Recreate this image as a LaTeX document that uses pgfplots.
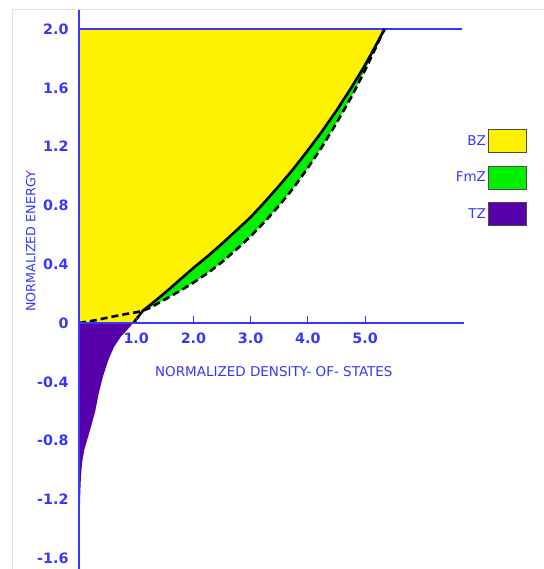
\documentclass[border=0pt]{standalone}
\usepackage{pgfplots}
\pgfplotsset{compat=1.18}
\usepackage{pgfplotstable}
\usepackage{fontspec}
\setmainfont{DejaVu Sans}
\definecolor{axblue}{RGB}{55,55,250}
\definecolor{tzpurple}{RGB}{85,0,170}
\definecolor{fmgreen}{RGB}{0,240,0}

% BZ boundary (solid)
\pgfplotstableread{
x y
0.95 0.0
1.0 0.025
1.05 0.05
1.12 0.085
1.25 0.125
1.5 0.205
1.75 0.29
2.0 0.375
2.25 0.455
2.5 0.54
2.75 0.63
3.0 0.72
3.25 0.825
3.5 0.935
3.75 1.05
4.0 1.175
4.25 1.305
4.5 1.445
4.75 1.595
5.0 1.755
5.17 1.875
5.34 2.0
}\solidtab

% FmZ boundary (dashed)
\pgfplotstableread{
x y
0 0
0.3 0.02
0.54 0.04
0.8 0.06
1.0 0.073
1.12 0.085
1.25 0.105
1.5 0.16
1.75 0.215
2.0 0.275
2.25 0.34
2.5 0.415
2.75 0.50
3.0 0.59
3.25 0.69
3.5 0.80
3.75 0.92
4.0 1.055
4.25 1.20
4.5 1.36
4.75 1.53
5.0 1.72
5.17 1.86
5.34 2.0
}\dashtab

% BZ region (left of solid curve, up to E=2)
\pgfplotstableread{
x y
0 0
0.95 0.0
1.0 0.025
1.05 0.05
1.12 0.085
1.25 0.125
1.5 0.205
1.75 0.29
2.0 0.375
2.25 0.455
2.5 0.54
2.75 0.63
3.0 0.72
3.25 0.825
3.5 0.935
3.75 1.05
4.0 1.175
4.25 1.305
4.5 1.445
4.75 1.595
5.0 1.755
5.17 1.875
5.34 2.0
0 2.0
}\bztab

% FmZ region (between solid and dashed)
\pgfplotstableread{
x y
1.12 0.085
1.25 0.125
1.5 0.205
1.75 0.29
2.0 0.375
2.25 0.455
2.5 0.54
2.75 0.63
3.0 0.72
3.25 0.825
3.5 0.935
3.75 1.05
4.0 1.175
4.25 1.305
4.5 1.445
4.75 1.595
5.0 1.755
5.17 1.875
5.34 2.0
5.17 1.86
5.0 1.72
4.75 1.53
4.5 1.36
4.25 1.20
4.0 1.055
3.75 0.92
3.5 0.80
3.25 0.69
3.0 0.59
2.75 0.50
2.5 0.415
2.25 0.34
2.0 0.275
1.75 0.215
1.5 0.16
1.25 0.105
1.12 0.085
}\fmztab

% TZ region (below E=0)
\pgfplotstableread{
x y
0 0
0.93 0
0.84 -0.04
0.72 -0.09
0.6 -0.16
0.5 -0.25
0.4 -0.37
0.33 -0.48
0.27 -0.6
0.2 -0.7
0.14 -0.78
0.08 -0.86
0.04 -0.95
0.02 -1.05
0.01 -1.15
0 -1.28
}\tztab

\begin{document}
\begin{tikzpicture}
\useasboundingbox (-79pt,-0.5pt) rectangle (464pt,568.5pt);
\draw[black!12, line width=1pt] (-66pt,-1pt) -- (-66pt,558.5pt) -- (470pt,558.5pt);
\begin{axis}[
  at={(0,0)}, anchor=south west, scale only axis,
  width=385pt, height=558.5pt,
  xmin=0, xmax=6.73, ymin=-1.67, ymax=2.13,
  clip=false,
  axis lines=middle, axis on top,
  axis line style={axblue, line width=1.2pt, -},
  xtick={1,2,3,4,5}, xticklabels={1.0,2.0,3.0,4.0,5.0},
  ytick={-1.6,-1.2,-0.8,-0.4,0,0.4,0.8,1.2,1.6,2.0},
  yticklabels={-1.6,-1.2,-0.8,-0.4,0,0.4,0.8,1.2,1.6,2.0},
  tick align=inside, major tick length=7pt,
  xtick style={axblue, line width=1pt},
  ytick style={draw=none},
  ticklabel style={text=axblue, font=\fontsize{14.3}{16}\selectfont\bfseries},
  xticklabel style={anchor=north, yshift=-6pt},
  yticklabel style={anchor=east, xshift=-7pt},
  xlabel={NORMALIZED DENSITY- OF- STATES},
  ylabel={NORMALIZED ENERGY},
  xlabel style={at={(axis description cs:0.506,0.352)}, anchor=center, text=axblue, font=\fontsize{13.5}{15}\selectfont},
  ylabel style={at={(axis description cs:-0.125,0.586)}, anchor=center, rotate=90, text=axblue, font=\fontsize{12.7}{14}\selectfont},
  legend plot pos=right,
  legend cell align=right,
  legend style={at={(axis description cs:1.164,0.787)}, anchor=north east, draw=none, fill=none,
    row sep=12.5pt, font=\fontsize{13.5}{15}\selectfont, text=axblue, inner sep=0pt,
    nodes={inner sep=2pt}},
  legend image code/.code={\draw[#1] (0pt,-11.5pt) rectangle (38pt,11.5pt);},
]
\addplot[fill=yellow, draw=none, forget plot] table {\bztab} \closedcycle;
\addplot[fill=fmgreen, draw=none, forget plot] table {\fmztab} \closedcycle;
\addplot[fill=tzpurple, draw=none, forget plot] table {\tztab} \closedcycle;
\addplot[tzpurple, line width=1.5pt, forget plot] table {\tztab};

\addplot[axblue, line width=1.2pt, forget plot] coordinates {(0,2) (6.7,2)};

\addplot[black, line width=2.6pt, line join=round, forget plot] table {\solidtab};
\addplot[black, line width=2.6pt, line join=round, dash pattern=on 7pt off 4pt, forget plot] table {\dashtab};

\node[anchor=east, text=axblue, font=\fontsize{14.3}{16}\selectfont\bfseries, inner sep=0.3333em, xshift=-7pt] at (axis cs:0,0) {0};

\addlegendimage{fill=yellow, draw=black!70, line width=1pt}
\addlegendentry{BZ}
\addlegendimage{fill=fmgreen, draw=black!70, line width=1pt}
\addlegendentry{FmZ}
\addlegendimage{fill=tzpurple, draw=black!70, line width=1pt}
\addlegendentry{TZ}
\end{axis}
\end{tikzpicture}
\end{document}
